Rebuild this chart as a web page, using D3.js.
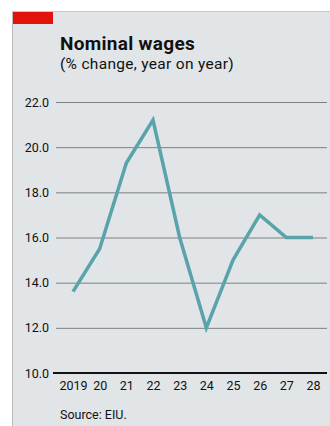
<!DOCTYPE html>
<html>
<head>
<meta charset="utf-8">
<script src="https://cdn.jsdelivr.net/npm/d3@7"></script>
<style>
  html, body { margin: 0; padding: 0; background: #fff; }
  svg { display: block; }
  text { font-family: "Roboto", sans-serif; fill: #111; }
</style>
</head>
<body>
<div id="chart"></div>
<script>
// data
const years = [2019, 2020, 2021, 2022, 2023, 2024, 2025, 2026, 2027, 2028];
const yearLabels = ["2019", "20", "21", "22", "23", "24", "25", "26", "27", "28"];
const wages = [13.6, 15.5, 19.3, 21.2, 16.0, 12.0, 15.0, 17.0, 16.0, 16.0];
const yTicks = [10, 12, 14, 16, 18, 20, 22];

const width = 330, height = 426;
const margins = {top: 102, left: 56, right: 3, bottom: 53};

const svg = d3.select("#chart").append("svg")
    .attr("width", width)
    .attr("height", height);

// panel
svg.append("rect")
    .attr("x", 12).attr("y", 11)
    .attr("width", width - 12).attr("height", height - 11)
    .attr("fill", "#e1e5e8");
svg.append("line")
    .attr("x1", 12.5).attr("x2", 12.5).attr("y1", 11).attr("y2", height)
    .attr("stroke", "#b9bdc0").attr("stroke-width", 1);
svg.append("line")
    .attr("x1", 12).attr("x2", width).attr("y1", 11.5).attr("y2", 11.5)
    .attr("stroke", "#c8cccf").attr("stroke-width", 1);
svg.append("rect")
    .attr("x", 13).attr("y", 12)
    .attr("width", 40).attr("height", 12)
    .attr("fill", "#e3120b");

// titles
svg.append("text")
    .attr("x", 60).attr("y", 50)
    .attr("font-size", 19).attr("font-weight", "bold")
    .attr("letter-spacing", 0.3)
    .text("Nominal wages");
svg.append("text")
    .attr("x", 60).attr("y", 69)
    .attr("font-size", 15.5)
    .attr("letter-spacing", 0.3)
    .text("(% change, year on year)");
svg.append("text")
    .attr("x", 60).attr("y", 419)
    .attr("font-size", 12.5)
    .text("Source: EIU.");

const x = d3.scaleLinear()
    .domain([2019, 2028])
    .range([73, 313]);
const y = d3.scaleLinear()
    .domain([10, 22])
    .range([height - margins.bottom, margins.top]);

// gridlines + y labels
const yAxis = svg.append("g")
    .attr("transform", "translate(" + margins.left + ",0)")
    .call(d3.axisLeft(y).tickValues(yTicks).tickFormat(d3.format(".1f"))
        .tickSize(-(width - margins.left - margins.right)).tickPadding(7));
yAxis.select(".domain").remove();
yAxis.selectAll(".tick line")
    .attr("stroke", "#7d8082").attr("stroke-width", 1);
yAxis.selectAll(".tick text")
    .attr("font-size", 12.5).attr("fill", "#111")
    .style("font-family", "Roboto, sans-serif");

// baseline
svg.append("line")
    .attr("x1", 53).attr("x2", width - margins.right)
    .attr("y1", y(10)).attr("y2", y(10))
    .attr("stroke", "#111").attr("stroke-width", 2);

// x labels
const xAxis = svg.append("g")
    .attr("transform", "translate(0," + y(10) + ")")
    .call(d3.axisBottom(x).tickValues(years).tickSize(0).tickPadding(8)
        .tickFormat((d, i) => yearLabels[i]));
xAxis.select(".domain").remove();
xAxis.selectAll(".tick text")
    .attr("font-size", 12.5).attr("fill", "#111")
    .style("font-family", "Roboto, sans-serif");

// line
const line = d3.line()
    .x((d, i) => x(years[i]))
    .y(d => y(d));
svg.append("path")
    .datum(wages)
    .attr("d", line)
    .attr("fill", "none")
    .attr("stroke", "#5aa3ab")
    .attr("stroke-width", 3.5)
    .attr("stroke-linejoin", "miter");
</script>
</body>
</html>
